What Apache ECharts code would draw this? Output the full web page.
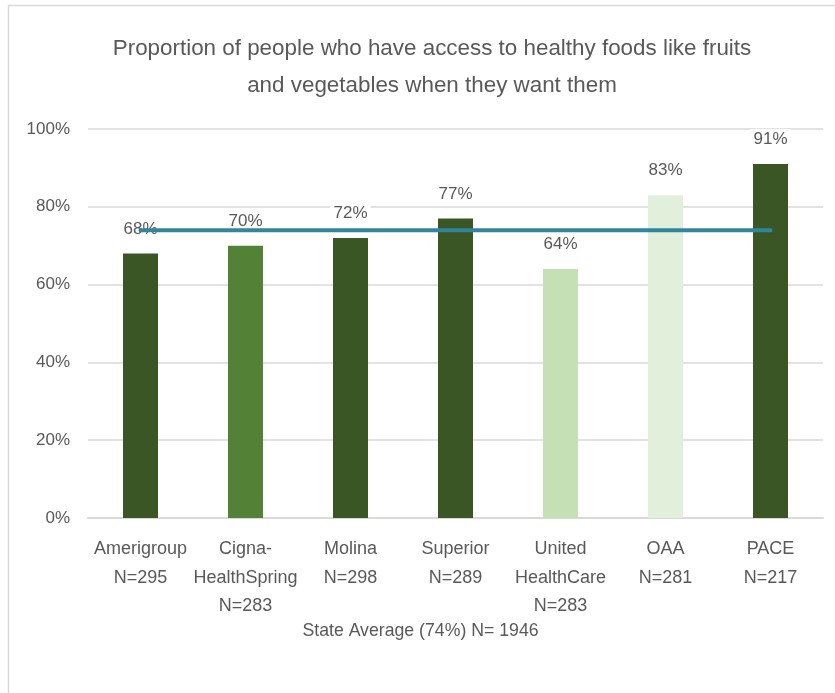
<!DOCTYPE html>
<html>
<head>
<meta charset="utf-8">
<script src="https://cdn.jsdelivr.net/npm/echarts@6/dist/echarts.min.js"></script>
<style>
  html, body { margin: 0; padding: 0; background: #ffffff; }
  #chart { width: 835px; height: 693px; }
</style>
</head>
<body>
<div id="chart"></div>
<script>
// Plan names with sample sizes
const categories = [
  'Amerigroup\nN=295',
  'Cigna-\nHealthSpring\nN=283',
  'Molina\nN=298',
  'Superior\nN=289',
  'United\nHealthCare\nN=283',
  'OAA\nN=281',
  'PACE\nN=217'
];
// Percent with access to healthy foods
const values = [68, 70, 72, 77, 64, 83, 91];
const barColors = ['#3A5624', '#538135', '#3A5624', '#3A5624', '#C5E0B4', '#E2EFDA', '#3A5624'];
// Statewide average
const averageName = 'State Average (74%) N= 1946';
const averageValue = 74;
const yTicks = [0, 20, 40, 60, 80, 100];

const FONT = "'Liberation Sans', sans-serif";
const TEXT = '#595959';

const chart = echarts.init(document.getElementById('chart'), null, { renderer: 'canvas' });
chart.setOption({
  backgroundColor: '#ffffff',
  animation: false,
  textStyle: { fontFamily: FONT, color: TEXT },
  title: {
    text: 'Proportion of people who have access to healthy foods like fruits\nand vegetables when they want them',
    left: 427,
    textAlign: 'center',
    top: 25,
    textStyle: { fontFamily: FONT, fontSize: 22.4, fontWeight: 'normal', color: TEXT, lineHeight: 37 }
  },
  graphic: [{
    type: 'rect',
    shape: { x: 8.5, y: 5.5, width: 840, height: 700 },
    style: { fill: 'none', stroke: '#D9D9D9', lineWidth: 1.5 },
    silent: true
  }],
  legend: {
    data: [averageName],
    bottom: 48,
    left: 'center',
    itemWidth: 0,
    itemHeight: 0,
    itemGap: 0,
    textStyle: { fontFamily: FONT, fontSize: 17.7, color: TEXT }
  },
  grid: { left: 88, right: 12, top: 129, bottom: 175, containLabel: false },
  xAxis: {
    type: 'category',
    data: categories,
    axisLine: { lineStyle: { color: '#D9D9D9', width: 2 } },
    axisTick: { show: false },
    axisLabel: {
      fontFamily: FONT, fontSize: 18, color: TEXT, lineHeight: 28.5,
      margin: 17, interval: 0
    }
  },
  yAxis: {
    type: 'value',
    min: yTicks[0],
    max: yTicks[yTicks.length - 1],
    interval: 20,
    axisLine: { show: false },
    axisTick: { show: false },
    splitLine: { lineStyle: { color: '#D9D9D9', width: 1.5 } },
    axisLabel: {
      fontFamily: FONT, fontSize: 17, color: TEXT, margin: 18,
      formatter: v => v + '%'
    }
  },
  series: [
    {
      type: 'bar',
      z: 2,
      barWidth: 35,
      data: values.map((v, i) => ({ value: v, itemStyle: { color: barColors[i] } })),
      label: {
        show: true,
        position: 'top',
        distance: 14,
        formatter: p => p.value + '%',
        fontFamily: FONT, fontSize: 17, color: TEXT,
        backgroundColor: '#ffffff',
        padding: [2, 3]
      }
    },
    {
      type: 'line',
      name: averageName,
      z: 5,
      data: categories.map(() => averageValue),
      symbol: 'none',
      lineStyle: { color: '#31859C', width: 4, cap: 'round' },
      itemStyle: { color: '#31859C' }
    }
  ]
});
</script>
</body>
</html>
